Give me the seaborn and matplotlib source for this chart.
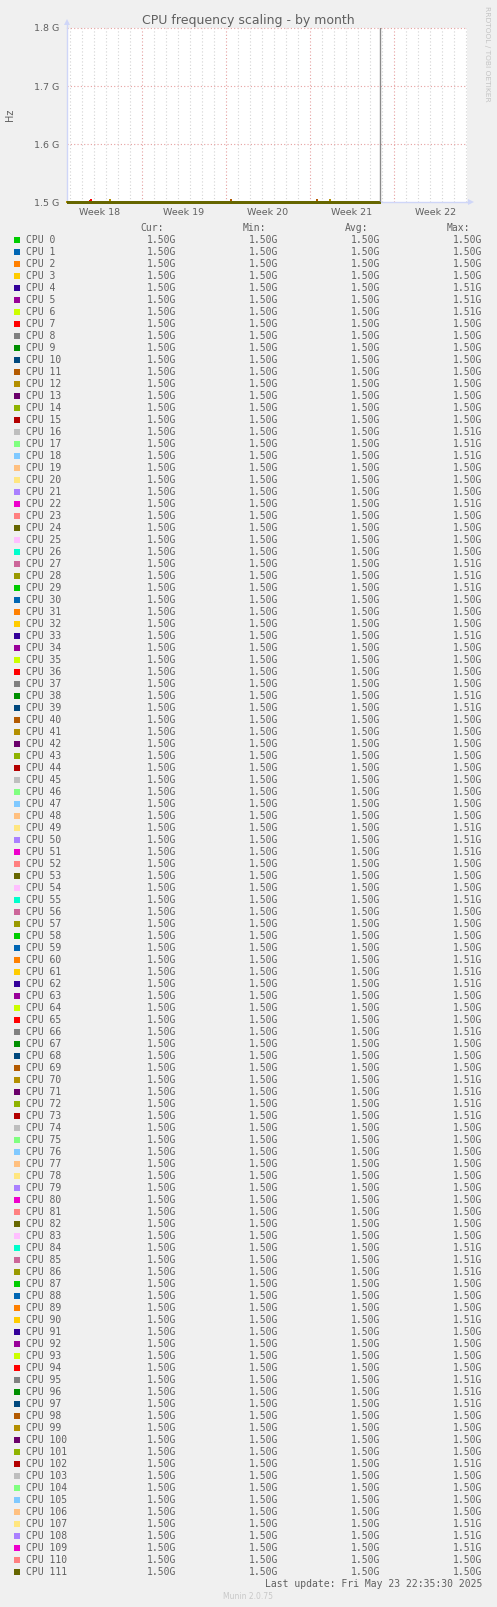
import numpy as np
import pandas as pd
import matplotlib
matplotlib.use("Agg")
import matplotlib.pyplot as plt
import seaborn as sns
from matplotlib.patches import Rectangle
from matplotlib.lines import Line2D

sns.set_theme(style="white")
plt.rcParams['font.family'] = ['DejaVu Sans']

# ---------------- data ----------------
N_CPU = 112
cpu_names = [f"CPU {i}" for i in range(N_CPU)]

munin_colors = ["#00CC00", "#0066B3", "#FF8000", "#FFCC00", "#330099", "#990099",
                "#CCFF00", "#FF0000", "#808080", "#008F00", "#00487D", "#B35A00",
                "#B38F00", "#6B006B", "#8FB300", "#B30000", "#BEBEBE", "#80FF80",
                "#80C9FF", "#FFC080", "#FFE680", "#AA80FF", "#EE00CC", "#FF8080",
                "#666600", "#FFBFFF", "#00FFCC", "#CC6699", "#999900"]

y_ticks_ghz = [1.5, 1.6, 1.7, 1.8]
y_tick_labels = ["1.5 G", "1.6 G", "1.7 G", "1.8 G"]
week_labels = ["Week 18", "Week 19", "Week 20", "Week 21", "Week 22"]
week_label_days = [2.725, 9.725, 16.725, 23.725, 30.725]
week_start_days = [6.225, 13.225, 20.225, 27.225]
view_days = 33.33
data_start_day = 0.0
data_end_day = 26.08
base_ghz = 1.50

# small visible bumps above the flat 1.5 GHz line
spike_cpu = [7, 12, 40, 40, 41]
spike_day = [1.97, 3.58, 13.67, 20.83, 21.92]
spike_ghz = [1.5035, 1.5035, 1.5030, 1.5035, 1.5030]

# legend statistics (GHz) as read
cur_ghz = [1.50] * N_CPU
min_ghz = [1.50] * N_CPU
avg_ghz = [1.50] * N_CPU
max_ghz = [1.50, 1.50, 1.50, 1.50, 1.51, 1.51, 1.51, 1.50,
           1.50, 1.50, 1.50, 1.50, 1.50, 1.50, 1.50, 1.50,
           1.51, 1.51, 1.51, 1.50, 1.50, 1.50, 1.51, 1.50,
           1.50, 1.50, 1.50, 1.51, 1.51, 1.51, 1.50, 1.50,
           1.50, 1.51, 1.50, 1.50, 1.50, 1.50, 1.51, 1.51,
           1.50, 1.50, 1.50, 1.50, 1.50, 1.50, 1.50, 1.50,
           1.50, 1.51, 1.51, 1.51, 1.50, 1.50, 1.50, 1.51,
           1.50, 1.50, 1.50, 1.50, 1.51, 1.51, 1.51, 1.50,
           1.50, 1.50, 1.51, 1.50, 1.50, 1.50, 1.51, 1.51,
           1.51, 1.51, 1.50, 1.50, 1.50, 1.50, 1.50, 1.50,
           1.50, 1.50, 1.50, 1.50, 1.51, 1.51, 1.51, 1.50,
           1.50, 1.50, 1.51, 1.50, 1.50, 1.50, 1.50, 1.51,
           1.51, 1.51, 1.50, 1.50, 1.50, 1.50, 1.51, 1.50,
           1.50, 1.50, 1.50, 1.51, 1.51, 1.51, 1.50, 1.50]

title = "CPU frequency scaling - by month"
last_update = "Last update: Fri May 23 22:35:30 2025"
footer = "Munin 2.0.75"
side_text = "RRDTOOL / TOBI OETIKER"

# ---------------- build long table ----------------
rows = []
for i, name in enumerate(cpu_names):
    pts = [(data_start_day, base_ghz), (data_end_day, base_ghz)]
    for c, d, v in zip(spike_cpu, spike_day, spike_ghz):
        if c == i:
            pts += [(d - 0.05, base_ghz), (d, v), (d + 0.05, base_ghz)]
    for d, v in sorted(pts):
        rows.append({"day": d, "ghz": v, "cpu": name})
df = pd.DataFrame(rows)
palette = {name: munin_colors[i % len(munin_colors)] for i, name in enumerate(cpu_names)}

# ---------------- figure ----------------
W, H = 497, 1607
fig = plt.figure(figsize=(W / 100, H / 100), dpi=100)
fig.patch.set_facecolor("#F0F0F0")

def fx(x):
    return x / W

def fy(y):
    return 1 - y / H

ax_l, ax_r, ax_t, ax_b = 67, 467, 28, 202
ax = fig.add_axes([fx(ax_l), fy(ax_b), (ax_r - ax_l) / W, (ax_b - ax_t) / H])
ax.set_facecolor("white")

FONT_C = "#606060"
GRID_MINOR = "#D4D4D4"
GRID_MAJOR = "#E6A0A0"
AXIS_C = "#CFD6F8"

# grid
for k in range(0, 34):
    d = 0.225 + k
    if any(abs(d - w) < 1e-6 for w in week_start_days):
        continue
    ax.axvline(d, color=GRID_MINOR, lw=0.8, ls=(0, (1, 2)), zorder=0.5)
for w in week_start_days:
    ax.axvline(w, color=GRID_MAJOR, lw=0.8, ls=(0, (1, 2)), zorder=0.6)
for yv in y_ticks_ghz[1:]:
    ax.axhline(yv, color=GRID_MAJOR, lw=0.8, ls=(0, (1, 2)), zorder=0.6, clip_on=False)

# one line per CPU, drawn in CPU order so CPU 111 ends on top
n_before = len(ax.lines)
for i, name in enumerate(cpu_names):
    sub = df[df["cpu"] == name]
    sns.lineplot(data=sub, x="day", y="ghz", color=palette[name], estimator=None,
                 sort=True, legend=False, linewidth=0.75, ax=ax, zorder=2 + i * 0.001,
                 antialiased=False)
for ln in ax.lines[n_before:]:
    ln.set_clip_on(False)

# end-of-data marker line
ax.axvline(data_end_day, color="#8A8A8A", lw=1.0, zorder=3)

ax.set_xlim(0, view_days)
ax.set_ylim(1.5, 1.8)
ax.set_xticks(week_label_days)
ax.set_xticklabels(week_labels)
ax.set_yticks(y_ticks_ghz)
ax.set_yticklabels(y_tick_labels)
ax.tick_params(axis="x", length=0, pad=4.6, labelsize=6.8, labelcolor=FONT_C)
ax.tick_params(axis="y", length=0, pad=5.4, labelsize=6.8, labelcolor=FONT_C)
ax.set_xlabel("")
ax.set_ylabel("")
for s in ["top", "right"]:
    ax.spines[s].set_visible(False)
for s in ["left", "bottom"]:
    ax.spines[s].set_color(AXIS_C)
    ax.spines[s].set_linewidth(1.0)
    ax.spines[s].set_zorder(1)

# axis arrows
fig.add_artist(Line2D([fx(ax_l), fx(ax_l)], [fy(ax_t), fy(ax_t - 6)], color=AXIS_C, lw=1.0))
fig.add_artist(Line2D([fx(ax_l)], [fy(ax_t - 6)], marker="^", markersize=4.5,
                      color=AXIS_C, markeredgewidth=0))
fig.add_artist(Line2D([fx(ax_r), fx(ax_r + 3)], [fy(ax_b), fy(ax_b)], color=AXIS_C, lw=1.0))
fig.add_artist(Line2D([fx(ax_r + 4)], [fy(ax_b)], marker=">", markersize=4.5,
                      color=AXIS_C, markeredgewidth=0))

# texts around the plot
fig.text(fx(248), fy(24), title, ha="center", va="baseline", fontsize=9, color=FONT_C)
fig.text(fx(10), fy(115), "Hz", ha="center", va="center", rotation=90, fontsize=7, color=FONT_C)
fig.text(fx(487), fy(53.5), side_text, ha="center", va="center", rotation=270,
         fontsize=5.4, color="#C4C4C4")

# legend table
MONO = "DejaVu Sans Mono"
LFS = 7
hdr_base = 230.8
for lbl, xl in zip(["Cur:", "Min:", "Avg:", "Max:"], [140, 242.7, 345, 446.7]):
    fig.text(fx(xl), fy(hdr_base), lbl, ha="left", va="baseline",
             family=MONO, fontsize=LFS, color=FONT_C)

col_right = [176, 278.3, 380.3, 482.7]
for i, name in enumerate(cpu_names):
    base = 242.8 + 12 * i
    top = 237.2 + 12 * i
    fig.add_artist(Rectangle((fx(14), fy(top + 6)), 6 / W, 6 / H,
                             transform=fig.transFigure,
                             facecolor=palette[name], edgecolor="none"))
    fig.text(fx(26.3), fy(base), name, ha="left", va="baseline",
             family=MONO, fontsize=LFS, color=FONT_C)
    for vals, xr in zip([cur_ghz, min_ghz, avg_ghz, max_ghz], col_right):
        fig.text(fx(xr), fy(base), f"{vals[i]:.2f}G", ha="right", va="baseline",
                 family=MONO, fontsize=LFS, color=FONT_C)

fig.text(fx(482.7), fy(242.8 + 12 * N_CPU), last_update, ha="right", va="baseline",
         family=MONO, fontsize=LFS, color=FONT_C)
fig.text(fx(248), fy(1599), footer, ha="center", va="baseline",
         fontsize=5.5, color="#C8C8C8")

fig.savefig("out.png", dpi=100, facecolor=fig.get_facecolor())
